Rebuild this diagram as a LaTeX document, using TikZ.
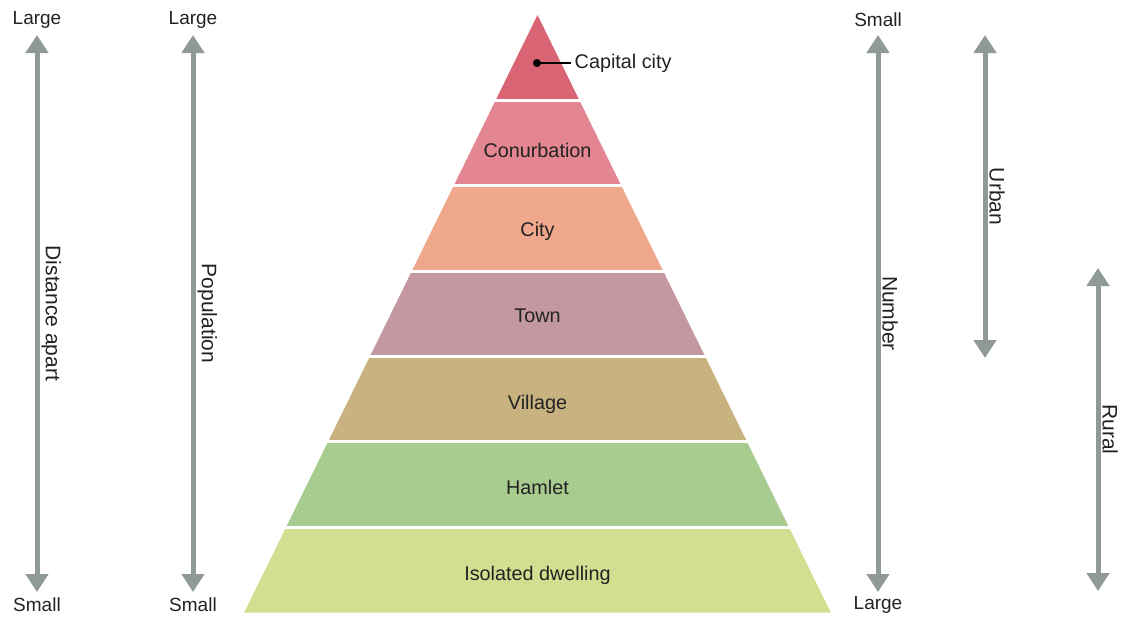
\documentclass[tikz,border=0pt]{standalone}
\usepackage{fontspec}
\setmainfont{Liberation Sans}
\usepackage{tikz}
\usetikzlibrary{arrows.meta}
\usetikzlibrary{positioning}
\definecolor{axisgrey}{RGB}{143,153,152}
\definecolor{labelink}{RGB}{34,34,34}
\definecolor{capitalc}{RGB}{217,100,115}
\definecolor{conurbc}{RGB}{228,134,145}
\definecolor{cityc}{RGB}{240,168,140}
\definecolor{townc}{RGB}{196,152,160}
\definecolor{villagec}{RGB}{200,178,128}
\definecolor{hamletc}{RGB}{168,204,144}
\definecolor{isolatedc}{RGB}{208,224,144}
\tikzstyle{axis} = [draw, line width=5pt, color=axisgrey,
{Triangle[width=22pt,length=18pt]}-{Triangle[width=22pt,length=18pt]}]
\tikzstyle{endtext} = [font=\fontsize{19}{22}\selectfont, text=labelink, inner sep=0pt]
\tikzstyle{sidetext} = [endtext, font=\fontsize{21}{24}\selectfont, midway, rotate=-90, anchor=south, inner sep=2pt]
\tikzstyle{tier} = [font=\fontsize{19.8}{23}\selectfont, text=labelink]
\tikzstyle{gap} = [draw=white, line width=3pt]
\tikzstyle{dot} = [circle, fill=black, inner sep=0pt, minimum size=8pt]

\begin{document}
\begin{tikzpicture}[x=1pt, y=-1pt]
	\useasboundingbox (0,0) rectangle (1124,616);
	%% Pyramid bands
	\foreach \i/\col in {0/capitalc, 1/conurbc, 2/cityc, 3/townc, 4/villagec, 5/hamletc, 6/isolatedc}
		\fill [\col] ({537.5-41.9*\i},{15+85.36*\i}) -- ({537.5+41.9*\i},{15+85.36*\i})
			-- ({537.5+41.9*(\i+1)},{15+85.36*(\i+1)}) -- ({537.5-41.9*(\i+1)},{15+85.36*(\i+1)}) -- cycle;
	\foreach \i in {1,...,6}
		\draw [gap] ({537.5-41.9*\i-3},{15+85.36*\i}) -- ({537.5+41.9*\i+3},{15+85.36*\i});
	\node [tier] (conurb) at (537.5,150) {Conurbation};
	\node [tier] (city) at (537.5,231) {City};
	\node [tier] (town) at (537.5,316) {Town};
	\node [tier] (village) at (537.5,404) {Village};
	\node [tier] (hamlet) at (537.5,487) {Hamlet};
	\node [tier] (isolated) at (537.5,575) {Isolated dwelling};
	\node [dot] (capdot) at (537,63) {};
	\node [tier, right=30pt of capdot] (capital) {Capital city};
	\draw [line width=2pt] (capdot) -- (capital);
	%% Scales
	\coordinate (distT) at (37,35);
	\coordinate (distB) at (37,592);
	\coordinate (popT) at (193,35);
	\coordinate (popB) at (193,592);
	\coordinate (numT) at (878,35);
	\coordinate (numB) at (878,592);
	\coordinate (urbT) at (985,35);
	\coordinate (urbB) at (985,358);
	\coordinate (rurT) at (1098,268);
	\coordinate (rurB) at (1098,591);
	\node [endtext] (distL) at (37,20) {Large};
	\node [endtext] (distS) at (37,605) {Small};
	\node [endtext] (popL) at (193,20) {Large};
	\node [endtext] (popS) at (193,605) {Small};
	\node [endtext] (numS) at (878,20) {Small};
	\node [endtext] (numL) at (878,605) {Large};
	\draw [axis] (distT) -- node [sidetext] (dist) {Distance apart} (distB);
	\draw [axis] (popT) -- node [sidetext] (pop) {Population} (popB);
	\draw [axis] (numT) -- node [sidetext] (num) {Number} (numB);
	\draw [axis] (urbT) -- node [sidetext] (urb) {Urban} (urbB);
	\draw [axis] (rurT) -- node [sidetext] (rur) {Rural} (rurB);
\end{tikzpicture}
\end{document}
